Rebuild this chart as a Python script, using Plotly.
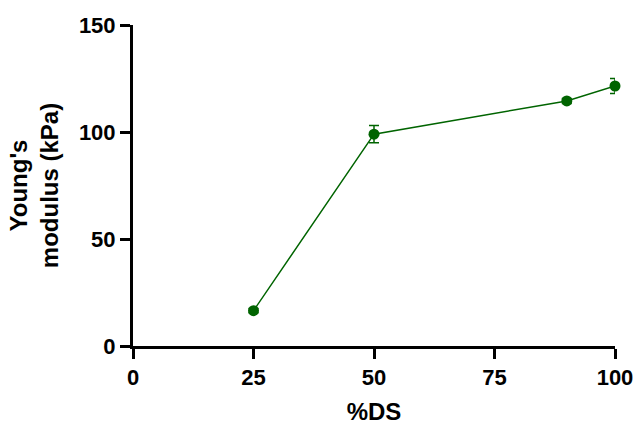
import plotly.graph_objects as go

ds = [25, 50, 90, 100]
modulus = [16.5, 99, 114.5, 121.5]
err = [1.0, 4.0, 1.2, 3.5]
x_ticks = [0, 25, 50, 75, 100]
y_ticks = [0, 50, 100, 150]

green = "#006400"
fig = go.Figure()
fig.add_trace(go.Scatter(
    x=ds, y=modulus, mode="lines+markers",
    line=dict(color=green, width=1.5),
    marker=dict(color=green, size=11),
    error_y=dict(type="data", array=err, visible=True, color=green, thickness=1.5, width=5),
    cliponaxis=False, showlegend=False,
))

fam = "Liberation Sans, Arial"
axfont = dict(family=fam, size=22, color="black", weight="bold")
titlefont = dict(family=fam, size=24, color="black", weight="bold")
fig.update_layout(
    width=636, height=428,
    margin=dict(l=133, r=21, t=25, b=82),
    plot_bgcolor="white", paper_bgcolor="white",
    xaxis=dict(range=[0, 100], tickvals=x_ticks, showline=True, linecolor="black", linewidth=3,
               ticks="outside", ticklen=10, tickwidth=3, tickcolor="black", showgrid=False, zeroline=False,
               tickfont=axfont, automargin=False,
               title=dict(text="%DS", font=titlefont, standoff=14)),
    yaxis=dict(range=[0, 150], tickvals=y_ticks, showline=True, linecolor="black", linewidth=3,
               ticks="outside", ticklen=10, tickwidth=3, tickcolor="black", showgrid=False, zeroline=False,
               tickfont=axfont, automargin=False,
               title=dict(text="Young's<br>modulus (kPa)", font=titlefont, standoff=14)),
)
fig.write_html("out.html", config={"displayModeBar": False},
               post_script="document.body.style.margin='0';document.body.style.padding='0';")
